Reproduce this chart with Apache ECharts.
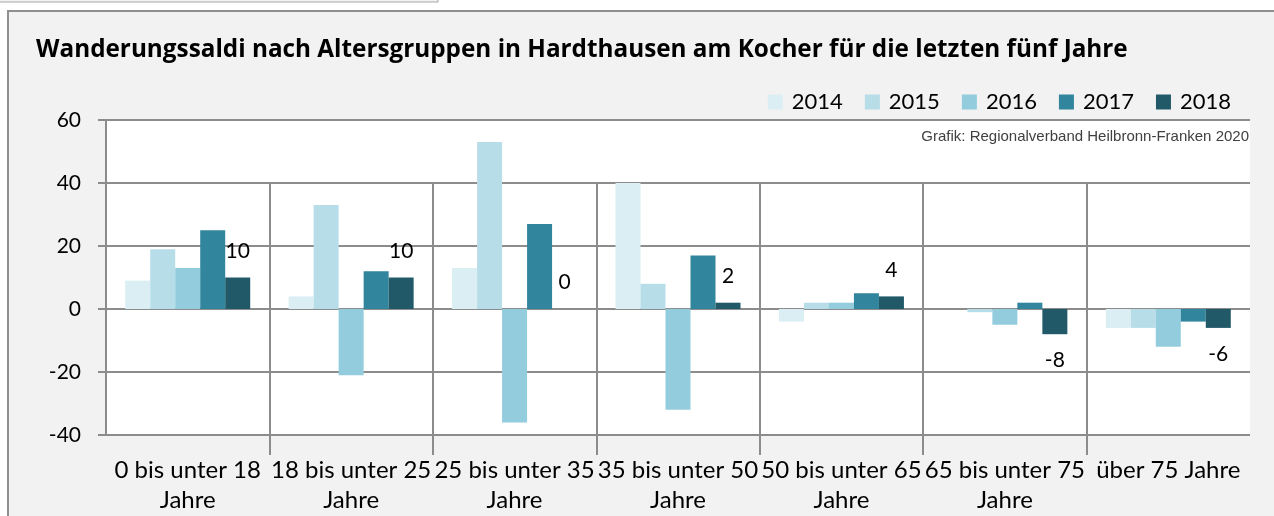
<!DOCTYPE html>
<html>
<head>
<meta charset="utf-8">
<script src="https://cdn.jsdelivr.net/npm/echarts@6/dist/echarts.min.js"></script>
<style>
  html, body { margin: 0; padding: 0; background: #fff; }
  #chart { width: 1274px; height: 516px; }
</style>
</head>
<body>
<div id="chart"></div>
<script>
var categories = ['0 bis unter 18\nJahre', '18 bis unter 25\nJahre', '25 bis unter 35\nJahre',
    '35 bis unter 50\nJahre', '50 bis unter 65\nJahre', '65 bis unter 75\nJahre', 'über 75 Jahre'];
var years = ['2014', '2015', '2016', '2017', '2018'];
var v2014 = [9, 4, 13, 40, -4, 0, -6];
var v2015 = [19, 33, 53, 8, 2, -1, -6];
var v2016 = [13, -21, -36, -32, 2, -5, -12];
var v2017 = [25, 12, 27, 17, 5, 2, -4];
var v2018 = [10, 10, 0, 2, 4, -8, -6];
var yTicks = [-40, -20, 0, 20, 40, 60];

var colors = ['#daeef3', '#b7dde8', '#93cddd', '#31859c', '#215968'];
var gridColor = '#8c8c8c';
var font = 'Lato';

var chart = echarts.init(document.getElementById('chart'));

// plot area in px; the separator grid covers only the inner category borders
var plotLeft = 106, plotRight = 1250, plotTop = 120, plotBottom = 435;
var band = (plotRight - plotLeft) / categories.length;

// only the 2018 series carries value labels, below the bar when negative
function labelled(values) {
    return values.map(function (v) {
        return v < 0 ? { value: v, label: { position: 'bottom' } } : v;
    });
}

var allValues = [v2014, v2015, v2016, v2017, v2018];
var series = years.map(function (y, i) {
    var s = {
        name: y,
        type: 'bar',
        barWidth: 25,
        barGap: 0,
        itemStyle: { color: colors[i] },
        data: i === 4 ? labelled(allValues[i]) : allValues[i]
    };
    if (i === 4) {
        s.label = {
            show: true,
            position: 'top',
            distance: 16,
            fontFamily: font,
            fontSize: 21,
            color: '#000'
        };
    }
    return s;
});

function separatorAxis(inside, length) {
    return {
        type: 'value',
        gridIndex: 1,
        min: 1,
        max: categories.length - 1,
        interval: 1,
        position: 'bottom',
        axisLine: { show: false, onZero: false },
        axisTick: { show: true, inside: inside, length: length,
                    lineStyle: { color: gridColor, width: 2 } },
        axisLabel: { show: false },
        splitLine: { show: false }
    };
}

var option = {
    backgroundColor: '#fff',
    animation: false,
    color: colors,
    graphic: [
        // small box cut off at the top left
        { type: 'rect', shape: { x: -2, y: -10, width: 440, height: 12 },
          style: { fill: '#f2f2f2', stroke: '#a6a6a6', lineWidth: 1 }, z: -10 },
        // chart frame
        { type: 'rect', shape: { x: 8, y: 11, width: 1280, height: 520 },
          style: { fill: '#f2f2f2', stroke: '#8f8f8f', lineWidth: 2 }, z: -10 },
        { type: 'text', right: 25, top: 129,
          style: { text: 'Grafik: Regionalverband Heilbronn-Franken 2020', fill: '#404040',
                   font: '15px "Liberation Sans"' } }
    ],
    title: {
        text: 'Wanderungssaldi nach Altersgruppen in Hardthausen am Kocher für die letzten fünf Jahre',
        left: 31,
        top: 33,
        textStyle: { fontFamily: 'Open Sans', fontSize: 24.3, fontWeight: 'bold', color: '#000' }
    },
    legend: {
        data: years,
        right: 38,
        top: 86,
        icon: 'rect',
        itemWidth: 15,
        itemHeight: 15,
        itemGap: 22,
        textStyle: { fontFamily: font, fontSize: 22, color: '#000', padding: [0, 0, 0, 4] }
    },
    grid: [
        {
            left: plotLeft, right: 1274 - plotRight, top: plotTop, bottom: 516 - plotBottom,
            show: true, backgroundColor: '#fff', borderWidth: 0
        },
        {
            left: plotLeft + band, right: 1274 - (plotRight - band),
            top: plotTop, bottom: 516 - plotBottom
        }
    ],
    xAxis: [
        {
            type: 'category',
            data: categories,
            position: 'bottom',
            axisLine: { show: false, onZero: false },
            axisTick: { show: false },
            axisLabel: { interval: 0, margin: 20, fontFamily: font, fontSize: 24,
                         lineHeight: 30, color: '#000' }
        },
        separatorAxis(true, 252),
        separatorAxis(false, 20)
    ],
    yAxis: [
        {
            type: 'value',
            min: yTicks[0],
            max: yTicks[yTicks.length - 1],
            interval: 20,
            axisLine: { show: true, lineStyle: { color: gridColor, width: 2 } },
            axisTick: { show: true, length: 8, lineStyle: { color: gridColor, width: 2 } },
            axisLabel: { margin: 25, fontFamily: font, fontSize: 21, color: '#000' },
            splitLine: { lineStyle: { color: gridColor, width: 2 } }
        },
        { type: 'value', gridIndex: 1, show: false, min: yTicks[0], max: yTicks[yTicks.length - 1] }
    ],
    series: series
};
chart.setOption(option);
</script>
</body>
</html>
